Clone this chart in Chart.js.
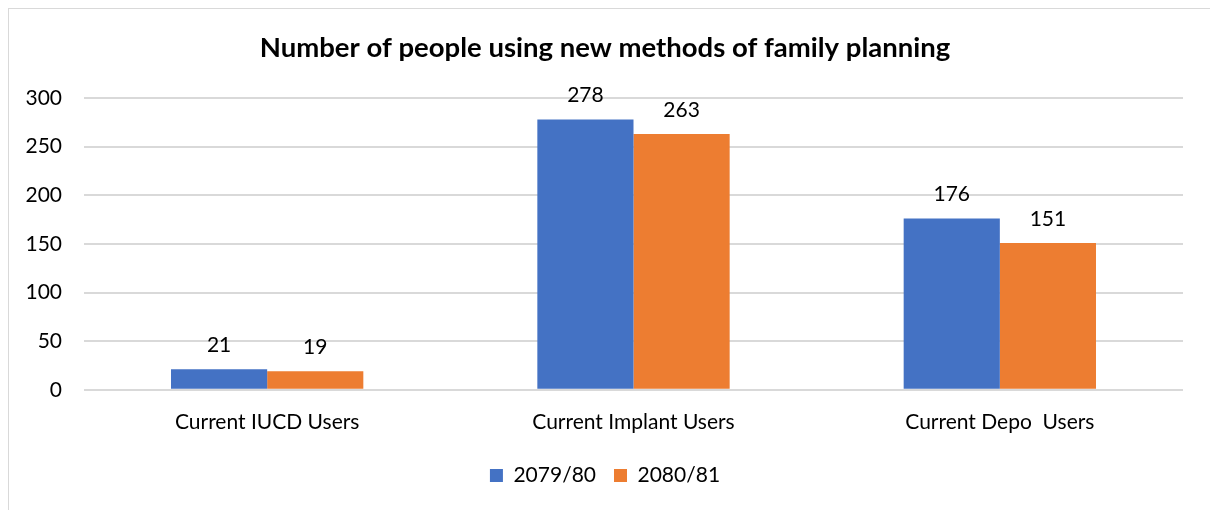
<!DOCTYPE html>
<html>
<head>
<meta charset="utf-8">
<script src="https://cdn.jsdelivr.net/npm/chart.js@4/dist/chart.umd.min.js"></script>
<style>
  html, body { margin: 0; padding: 0; background: #fff; }
  #wrap { position: relative; width: 1210px; height: 510px; overflow: hidden; }
  #frame { position: absolute; left: 8px; top: 8px; width: 1300px; height: 600px; border: 1px solid #d9d9d9; box-sizing: border-box; }
  canvas { position: absolute; left: 0; top: 0; }
</style>
</head>
<body>
<div id="wrap">
  <div id="frame"></div>
  <canvas id="chart" width="1210" height="510"></canvas>
</div>
<script>
const categories = ['Current IUCD Users', 'Current Implant Users', 'Current Depo  Users'];
const series2079 = [21, 278, 176];
const series2080 = [19, 263, 151];
const seriesNames = ['2079/80', '2080/81'];
const yTicks = [0, 50, 100, 150, 200, 250, 300];

const FONT = 'Lato, "Liberation Sans", sans-serif';

// numbers above each bar
const valueLabels = {
  id: 'valueLabels',
  afterDatasetsDraw(chart) {
    const ctx = chart.ctx;
    ctx.save();
    ctx.font = '21px ' + FONT;
    ctx.fillStyle = '#000';
    ctx.textAlign = 'center';
    ctx.textBaseline = 'middle';
    chart.data.datasets.forEach((ds, i) => {
      chart.getDatasetMeta(i).data.forEach((bar, j) => {
        ctx.fillText(String(ds.data[j]), bar.x, bar.y - 24);
      });
    });
    ctx.restore();
  }
};

new Chart(document.getElementById('chart'), {
  type: 'bar',
  data: {
    labels: categories,
    datasets: [
      { label: seriesNames[0], data: series2079, backgroundColor: '#4472C4' },
      { label: seriesNames[1], data: series2080, backgroundColor: '#ED7D31' }
    ]
  },
  options: {
    responsive: false,
    animation: false,
    devicePixelRatio: 1,
    layout: { padding: { left: 0, right: 0, top: 0, bottom: 14 } },
    datasets: { bar: { categoryPercentage: 0.525, barPercentage: 1 } },
    plugins: {
      title: {
        display: true,
        text: 'Number of people using new methods of family planning',
        color: '#000',
        font: { family: FONT, size: 27.5, weight: 'bold' },
        padding: { top: 32, bottom: 33 }
      },
      legend: {
        position: 'bottom',
        labels: {
          color: '#000',
          font: { family: FONT, size: 21 },
          boxWidth: 13,
          boxHeight: 13,
          padding: 18
        }
      },
      tooltip: { enabled: false }
    },
    scales: {
      x: {
        grid: { display: false },
        border: { display: false },
        ticks: { color: '#000', font: { family: FONT, size: 21 }, padding: 12 }
      },
      y: {
        min: 0,
        max: 300,
        afterBuildTicks(scale) { scale.ticks = yTicks.map(v => ({ value: v })); },
        afterFit(scale) { scale.width = 84; },
        grid: { color: '#d9d9d9', lineWidth: 2, drawTicks: false },
        border: { display: false },
        ticks: { color: '#000', font: { family: FONT, size: 21 }, padding: 22 }
      },
      // empty right-hand gutter so title and legend stay centred on the canvas
      gutter: {
        type: 'linear',
        position: 'right',
        afterFit(scale) { scale.width = 27; },
        grid: { display: false },
        border: { display: false },
        ticks: { display: false }
      }
    }
  },
  plugins: [valueLabels]
});
</script>
</body>
</html>
